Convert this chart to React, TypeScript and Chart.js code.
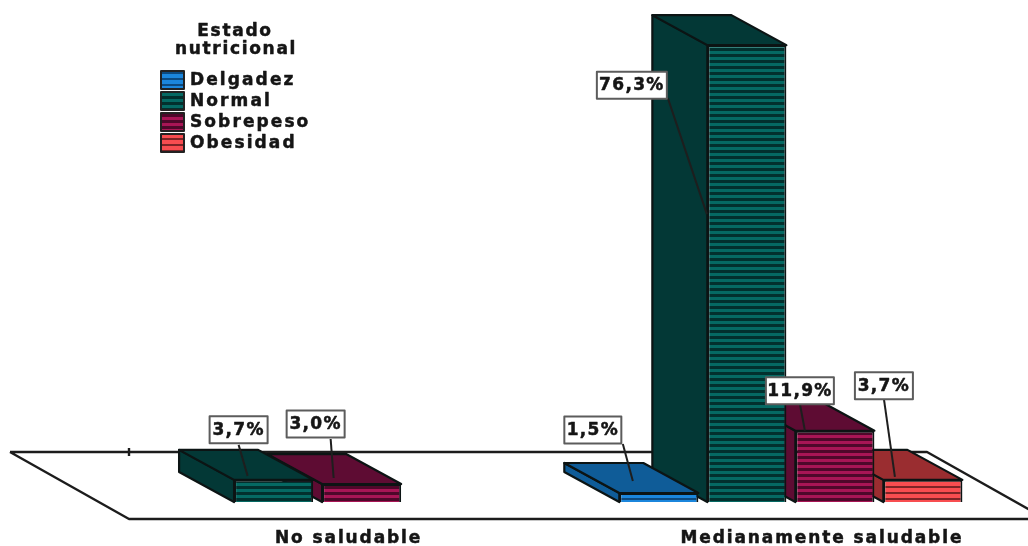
import React, { useEffect, useRef } from "react";
import { Chart, registerables } from "chart.js";

Chart.register(...registerables);

// Percentages per nutritional status, one entry per health category.
const categories = ["No saludable", "Medianamente saludable"];
const seriesNames = ["Delgadez", "Normal", "Sobrepeso", "Obesidad"];
const delgadez = [null, 1.5];
const normal = [3.7, 76.3];
const sobrepeso = [3.0, 11.9];
const obesidad = [null, 3.7];
const seriesValues = [delgadez, normal, sobrepeso, obesidad];
const legendTitle = ["Estado", "nutricional"];

// Colours: hatch light, hatch dark, side and top faces.
const hatchLight = ["#1b86dc", "#056963", "#a81555", "#f84d50"];
const hatchDark = ["#0c4a80", "#02302e", "#4e082a", "#7e2426"];
const hatchRows = [2, 3, 3, 2];
const faceColour = ["#0f5c98", "#033836", "#5e0c33", "#9a2d30"];

const INK = "#0c1414";
const TEXT = "#151515";
const FONT = "bold 17px 'DejaVu Sans'";
const DEPTH_X = -55;
const DEPTH_Y = -30;

// Callout box centre and leader ends, relative to the top centre of the front face.
const placements: Record<string, { cx: number; cy: number; fromX: number; fromY: number; toX: number; toY: number; w: number }> = {
  "1-0": { cx: -35, cy: -50, fromX: -35, fromY: -35, toX: -26, toY: -4, w: 58 },
  "2-0": { cx: -46, cy: -60, fromX: -31, fromY: -45, toX: -28, toY: -6, w: 58 },
  "0-1": { cx: -66, cy: -63, fromX: -36, fromY: -49, toX: -26, toY: -12, w: 57 },
  "1-1": { cx: -115, cy: 40, fromX: -79, fromY: 53, toX: -40, toY: 169, w: 70 },
  "2-1": { cx: -35, cy: -40, fromX: -35, fromY: -27, toX: -30, toY: 0, w: 68 },
  "3-1": { cx: -39, cy: -94, fromX: -39, fromY: -81, toX: -28, toY: -3, w: 58 },
};

function hatch(light: string, dark: string, rows: number): CanvasPattern {
  const tile = document.createElement("canvas");
  tile.width = 2;
  tile.height = 6;
  const g = tile.getContext("2d")!;
  g.fillStyle = light;
  g.fillRect(0, 0, 2, 6);
  g.fillStyle = dark;
  g.fillRect(0, 0, 2, rows);
  return g.createPattern(tile, "repeat")!;
}

function polygon(ctx: CanvasRenderingContext2D, pts: number[][], fill: string | null, stroke: string, width: number) {
  ctx.beginPath();
  pts.forEach(([x, y], i) => (i ? ctx.lineTo(x, y) : ctx.moveTo(x, y)));
  if (fill) {
    ctx.closePath();
    ctx.fillStyle = fill;
    ctx.fill();
  }
  ctx.strokeStyle = stroke;
  ctx.lineWidth = width;
  ctx.lineJoin = "round";
  ctx.stroke();
}

function heavyText(ctx: CanvasRenderingContext2D, text: string, x: number, y: number) {
  ctx.fillStyle = TEXT;
  ctx.strokeStyle = TEXT;
  ctx.lineWidth = 0.5;
  ctx.fillText(text, x, y);
  ctx.strokeText(text, x, y);
}

const extrusion = {
  id: "extrusion",
  beforeDraw(chart: any) {
    chart.ctx.letterSpacing = "1.9px";
  },
  // Floor of the plot, sitting under the bars.
  beforeDatasetsDraw(chart: any) {
    const { ctx, scales } = chart;
    const base = scales.y.getPixelForValue(0);
    const front = base + 17;
    const back = front - 67;
    const left = 129;
    const span = 917;
    ctx.save();
    polygon(
      ctx,
      [
        [left - 119, back],
        [left + span - 119, back],
        [left + span, front],
        [left, front],
        [left - 119, back],
      ],
      null,
      "#1c1c1c",
      2.4
    );
    polygon(ctx, [[left, back - 4], [left, back + 4]], null, "#1c1c1c", 2.4);
    ctx.restore();
  },
  // Left side and top of each bar go down first so the front face lands over them.
  beforeDatasetDraw(chart: any, args: any) {
    const { ctx } = chart;
    const i = args.index;
    ctx.save();
    args.meta.data.forEach((bar: any, c: number) => {
      if (seriesValues[i][c] == null) return;
      const x0 = bar.x - bar.width / 2;
      const x1 = bar.x + bar.width / 2;
      const top = bar.y;
      const bot = bar.base;
      polygon(ctx, [[x0, top], [x0 + DEPTH_X, top + DEPTH_Y], [x0 + DEPTH_X, bot + DEPTH_Y], [x0, bot]], faceColour[i], INK, 2.2);
      polygon(ctx, [[x0, top], [x1, top], [x1 + DEPTH_X, top + DEPTH_Y], [x0 + DEPTH_X, top + DEPTH_Y]], faceColour[i], INK, 2.2);
    });
    ctx.restore();
  },
  afterDatasetsDraw(chart: any) {
    const { ctx } = chart;
    ctx.save();
    ctx.font = FONT;
    ctx.textAlign = "center";
    ctx.textBaseline = "middle";

    // Value callouts with their leader lines.
    ctx.letterSpacing = "1.3px";
    chart.data.datasets.forEach((_: any, i: number) => {
      chart.getDatasetMeta(i).data.forEach((bar: any, c: number) => {
        const value = seriesValues[i][c];
        if (value == null) return;
        const p = placements[`${i}-${c}`];
        const boxH = 27;
        polygon(ctx, [[bar.x + p.fromX, bar.y + p.fromY], [bar.x + p.toX, bar.y + p.toY]], null, "#1e1e1e", 2);
        ctx.fillStyle = "#ffffff";
        ctx.fillRect(bar.x + p.cx - p.w / 2, bar.y + p.cy - boxH / 2, p.w, boxH);
        ctx.strokeStyle = "#5c5c5c";
        ctx.lineWidth = 2;
        ctx.strokeRect(bar.x + p.cx - p.w / 2, bar.y + p.cy - boxH / 2, p.w, boxH);
        heavyText(ctx, `${value.toFixed(1).replace(".", ",")}%`, bar.x + p.cx, bar.y + p.cy + 0.5);
      });
    });

    // Legend block, built from the dataset labels.
    ctx.letterSpacing = "1.7px";
    heavyText(ctx, legendTitle[0], 235, 32);
    heavyText(ctx, legendTitle[1], 236, 50);
    ctx.textAlign = "left";
    ctx.letterSpacing = "2.1px";
    chart.data.datasets.forEach((d: any, i: number) => {
      const y = 71 + i * 21;
      ctx.fillStyle = d.backgroundColor;
      ctx.fillRect(161, y, 23, 18);
      ctx.strokeStyle = "#222222";
      ctx.lineWidth = 2;
      ctx.strokeRect(161, y, 23, 18);
      heavyText(ctx, d.label, 190, y + 10);
    });
    ctx.restore();
  },
};

export default function App() {
  const ref = useRef<HTMLCanvasElement>(null);

  useEffect(() => {
    const chart = new Chart(ref.current!, {
      type: "bar",
      data: {
        labels: categories,
        datasets: seriesNames.map((label, i) => ({
          label,
          data: seriesValues[i],
          backgroundColor: hatch(hatchLight[i], hatchDark[i], hatchRows[i]),
          borderColor: INK,
          borderWidth: 2,
          categoryPercentage: 0.744,
          barPercentage: 0.898,
        })),
      },
      options: {
        responsive: false,
        animation: false,
        layout: { padding: { left: 81, right: 0.5, top: 23, bottom: 0 } },
        plugins: { legend: { display: false }, tooltip: { enabled: false } },
        scales: {
          x: {
            grid: { display: false },
            border: { display: false },
            afterFit(scale: any) {
              scale.height = 44;
            },
            ticks: {
              color: TEXT,
              font: { family: "'DejaVu Sans'", size: 17, weight: "bold" },
              textStrokeColor: TEXT,
              textStrokeWidth: 0.5,
              labelOffset: 31,
              padding: 18,
              maxRotation: 0,
              autoSkip: false,
            },
          },
          y: { display: false, min: 0, max: 80 },
        },
      },
      plugins: [extrusion],
    } as any);
    return () => chart.destroy();
  }, []);

  return (
    <div style={{ position: "fixed", left: 0, top: 0, width: 1028, height: 546, background: "#ffffff", overflow: "hidden" }}>
      <canvas ref={ref} width={1028} height={546} style={{ display: "block" }} />
    </div>
  );
}
